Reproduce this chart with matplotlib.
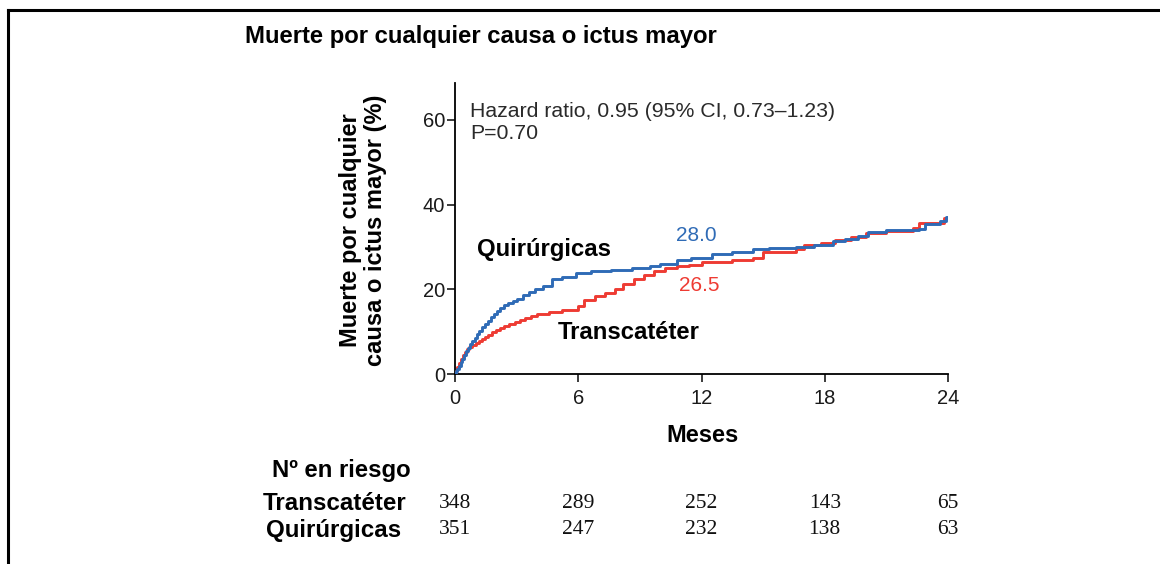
import matplotlib
matplotlib.use("Agg")
import matplotlib.pyplot as plt
from matplotlib.lines import Line2D
import matplotlib.transforms as mtransforms

# ---- data ----
months_ticks = [0, 6, 12, 18, 24]
y_ticks = [0, 20, 40, 60]

t_quir = [0, 0.05, 0.12, 0.2, 0.28, 0.35, 0.45, 0.55, 0.65, 0.75, 0.85, 0.95, 1.05, 1.15, 1.3,
          1.45, 1.6, 1.75, 1.9, 2.05, 2.2, 2.4, 2.6, 2.8, 3.0, 3.3, 3.6, 3.9, 4.3, 4.7, 5.2,
          5.9, 6.6, 7.6, 8.6, 9.5, 10.0, 10.8, 11.5, 12.5, 13.5, 14.5, 15.3, 16.6, 17.5, 18.4,
          19.0, 19.6, 20.1, 21.0, 22.6, 22.9, 23.6, 23.9, 24.0]
v_quir = [0, 0.6, 1.2, 2.0, 2.8, 3.6, 4.5, 5.4, 6.2, 7.0, 7.8, 8.6, 9.4, 10.2, 11.0,
          11.8, 12.6, 13.4, 14.2, 14.9, 15.6, 16.2, 16.8, 17.3, 17.8, 18.6, 19.4, 20.0, 20.8, 22.4, 23.0,
          23.8, 24.2, 24.6, 25.0, 25.4, 26.0, 27.0, 27.4, 28.3, 28.8, 29.4, 29.8, 30.1, 30.5, 31.3,
          31.8, 32.6, 33.6, 34.0, 34.2, 35.4, 36.2, 37.0, 37.0]

t_trans = [0, 0.05, 0.12, 0.2, 0.3, 0.4, 0.5, 0.6, 0.7, 0.85, 1.0, 1.15, 1.3, 1.45, 1.6, 1.8,
           2.0, 2.2, 2.4, 2.65, 2.9, 3.15, 3.4, 3.7, 4.0, 4.6, 5.2, 6.0, 6.3, 6.8, 7.3, 7.8, 8.2,
           8.7, 9.2, 9.7, 10.2, 10.8, 11.4, 12.0, 13.5, 14.5, 15.0, 16.6, 17.0, 17.8, 18.5, 19.3,
           20.0, 21.0, 22.3, 22.6, 23.8, 24.0]
v_trans = [0, 0.8, 1.6, 2.6, 3.6, 4.5, 5.2, 5.8, 6.3, 6.8, 7.3, 7.8, 8.3, 8.8, 9.3, 9.8,
           10.3, 10.8, 11.3, 11.8, 12.3, 12.8, 13.3, 13.8, 14.2, 14.6, 15.2, 16.0, 17.4, 18.4, 19.2, 20.0, 21.2,
           22.4, 23.4, 24.2, 25.0, 25.4, 25.8, 26.5, 26.8, 27.4, 28.9, 29.4, 30.4, 31.0, 31.6, 32.4,
           33.4, 33.8, 34.4, 35.6, 36.8, 36.8]

risk_trans = [348, 289, 252, 143, 65]
risk_quir = [351, 247, 232, 138, 63]

title = "Muerte por cualquier causa o ictus mayor"
ylabel = "Muerte por cualquier\ncausa o ictus mayor (%)"
xlabel = "Meses"
hr_text = "Hazard ratio, 0.95 (95% CI, 0.73\u20131.23)\nP=0.70"

# ---- style ----
W, H = 1160, 564
BLUE = "#2f6bb6"
RED = "#ee3b33"
bold = dict(family=["Liberation Sans", "DejaVu Sans"], fontweight="bold")
sans = ["Liberation Sans", "DejaVu Sans"]
serif = ["Liberation Serif", "DejaVu Serif"]

fig = plt.figure(figsize=(W / 100, H / 100), dpi=100)
fig.patch.set_facecolor("white")

def fx(px):
    return px / W

def fy(py):
    return 1 - py / H

ax = fig.add_axes([fx(455), fy(374), fx(948) - fx(455), fy(83) - fy(374)])
ax.step(t_trans, v_trans, where="post", color=RED, lw=2.1, zorder=3)
ax.step(t_quir, v_quir, where="post", color=BLUE, lw=2.1, zorder=4)

ax.set_xlim(0, 24)
ax.set_ylim(0, 68.7)
ax.set_xticks(months_ticks)
ax.set_yticks(y_ticks)
for s in ["top", "right"]:
    ax.spines[s].set_visible(False)
for s in ["left", "bottom"]:
    ax.spines[s].set_linewidth(1.3)
    ax.spines[s].set_clip_on(False)
ax.tick_params(axis="both", direction="out", length=6, width=1.2, colors="#1a1a1a")
ax.tick_params(axis="x", pad=5)
ax.tick_params(axis="y", pad=1)
for lab in ax.get_xticklabels() + ax.get_yticklabels():
    lab.set_family(sans)
    lab.set_fontsize(14.5)
    lab.set_color("#1a1a1a")

# axis labels
fig.text(fx(703), fy(436), xlabel, fontsize=17, va="center", ha="center", **bold)
fig.text(fx(363), fy(230), ylabel, fontsize=17, rotation=90, va="center", ha="center",
         linespacing=1.12, multialignment="center", **bold)

ax.text(0.75, 59.4, hr_text, family=sans, fontsize=15.3, color="#2a2a2a",
        va="center", ha="left", linespacing=1.25)
ax.text(1.05, 29.3, "Quir\u00fargicas", fontsize=17.2, va="center", ha="left", **bold)
ax.text(5.0, 9.7, "Transcat\u00e9ter", fontsize=17.2, va="center", ha="left", **bold)
ax.text(11.75, 32.8, "28.0", family=sans, fontsize=15, color=BLUE, va="center", ha="center")
ax.text(11.9, 21.0, "26.5", family=sans, fontsize=15, color=RED, va="center", ha="center")

# title
fig.text(fx(245), fy(36), title, fontsize=17.2, va="center", ha="left", **bold)

# number at risk table
fig.text(fx(341), fy(470), "N\u00ba en riesgo", fontsize=17.2, va="center", ha="center", **bold)
fig.text(fx(335), fy(503), "Transcat\u00e9ter", fontsize=17.4, va="center", ha="center", **bold)
fig.text(fx(334), fy(530), "Quir\u00fargicas", fontsize=17.4, va="center", ha="center", **bold)
trans = mtransforms.blended_transform_factory(ax.transData, fig.transFigure)
for m, a, b in zip(months_ticks, risk_trans, risk_quir):
    fig.text(m, fy(503), str(a), transform=trans, family=serif, fontsize=15.5,
             va="center", ha="center", color="#111111")
    fig.text(m, fy(529), str(b), transform=trans, family=serif, fontsize=15.5,
             va="center", ha="center", color="#111111")

# outer frame (left and top)
fig.add_artist(Line2D([fx(7.5), fx(7.5)], [0, fy(10)], transform=fig.transFigure,
                      color="black", lw=2.2, solid_capstyle="projecting"))
fig.add_artist(Line2D([fx(7.5), 1], [fy(10), fy(10)], transform=fig.transFigure,
                      color="black", lw=2.2, solid_capstyle="projecting"))

fig.savefig("out.png", dpi=100)
